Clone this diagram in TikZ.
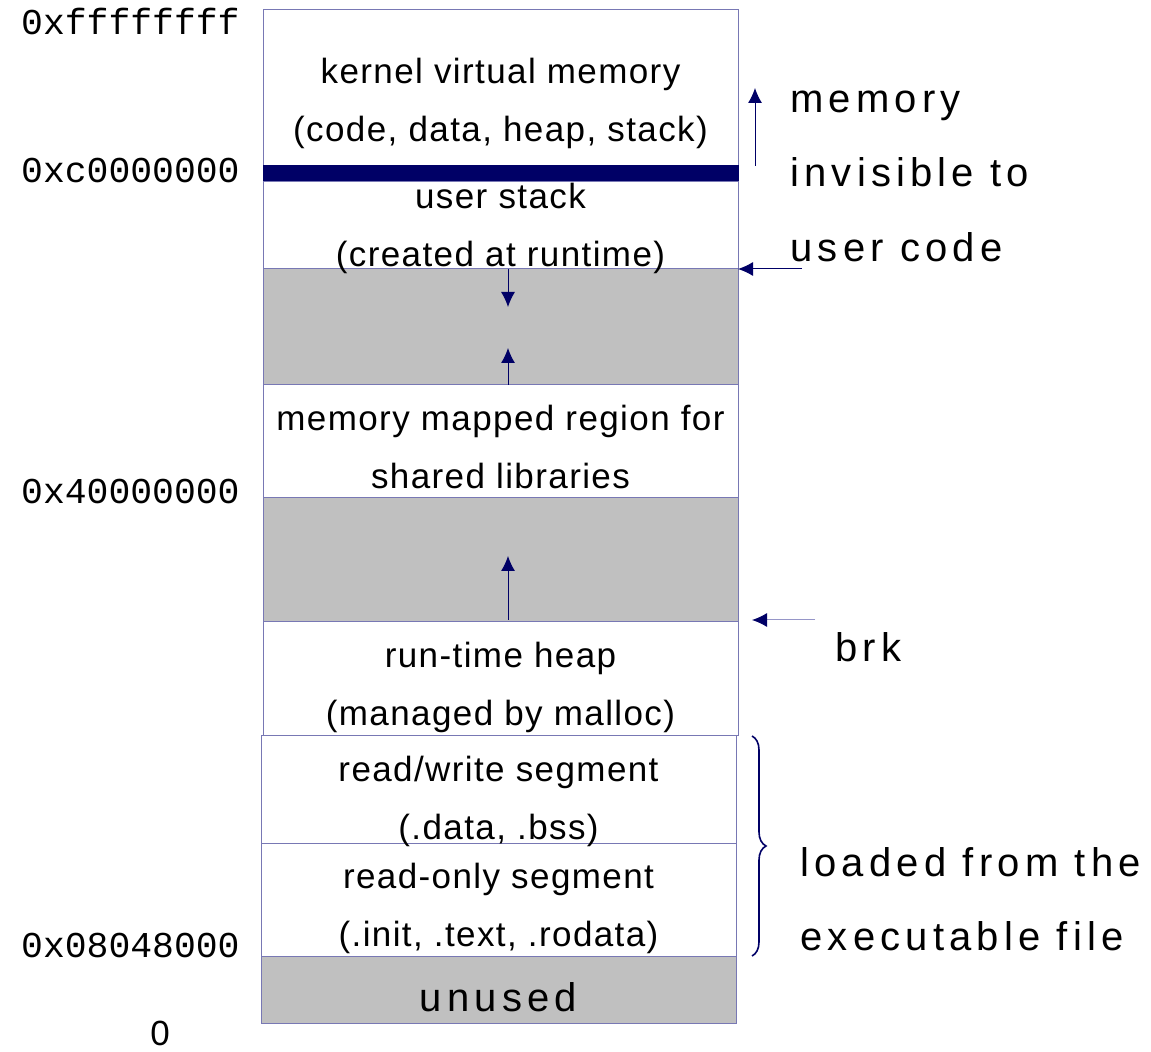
\documentclass[tikz,border=0pt]{standalone}
\usepackage{fontspec}
\usetikzlibrary{positioning, calc, arrows.meta, decorations.pathreplacing}

\newfontfamily\boxfont{Liberation Sans}[LetterSpace=4]
\newfontfamily\sidefont{Liberation Sans}[LetterSpace=13]
\newfontfamily\addrfont{Liberation Mono}

\definecolor{navyblue}{RGB}{0,0,102}
\definecolor{boxline}{RGB}{120,120,180}
\definecolor{gapgray}{RGB}{192,192,192}
\definecolor{brkline}{RGB}{150,150,200}

\tikzset{
  seg/.style={draw=boxline, line width=0.5pt, minimum width=237.5pt,
    inner sep=0pt, outer sep=0pt, fill=white},
  gap/.style={seg, fill=gapgray},
  boxtext/.style={font=\boxfont\fontsize{17.5}{29}\selectfont, align=center},
  sidetext/.style={font=\sidefont\fontsize{20}{24}\selectfont, anchor=base west, inner sep=0pt},
  addr/.style={font=\addrfont\fontsize{18.2}{22}\selectfont, anchor=base east, inner sep=0pt},
  growth/.style={draw=navyblue, line width=0.5pt, -{Latex[length=7.5pt,width=7pt]}}
}

\begin{document}
\begin{tikzpicture}[x=0.5pt, y=-0.5pt]
  \useasboundingbox (0,0) rectangle (1151,1052);

  % the address space, top to bottom
  \node[seg, minimum height=78pt] (kernel) at (500.5,88) {};
  \node[seg, fill=navyblue, draw=navyblue, minimum height=8pt, below = 0pt of kernel] (bar) {};
  \node[seg, minimum height=43.5pt, below = 0pt of bar] (ustack) {};
  \node[gap, minimum height=58pt, below = 0pt of ustack] (gap1) {};
  \node[seg, minimum height=56.5pt, below = 0pt of gap1] (mmap) {};
  \node[gap, minimum height=62pt, below = 0pt of mmap] (gap2) {};
  \node[seg, minimum height=57pt, below = 0pt of gap2] (heap) {};
  \node[seg, minimum height=53.5pt, below = 0pt of heap, xshift=-1pt] (rw) {};
  \node[seg, minimum height=56.5pt, below = 0pt of rw] (ro) {};
  \node[gap, minimum height=33.5pt, below = 0pt of ro] (unused) {};

  \node[boxtext] (kerneltxt) at ([yshift=-7.5pt]kernel.center) {kernel virtual memory\\(code, data, heap, stack)};
  \node[boxtext] (ustacktxt) at ([yshift=-1.5pt]ustack.center) {user stack\\(created at runtime)};
  \node[boxtext] (mmaptxt) at ([yshift=-2.75pt]mmap.center) {memory mapped region for\\shared libraries};
  \node[boxtext] (heaptxt) at ([yshift=-4pt]heap.center) {run-time heap\\(managed by malloc)};
  \node[boxtext] (rwtxt) at ([yshift=-5.75pt]rw.center) {read/write segment\\(.data, .bss)};
  \node[boxtext] (rotxt) at ([yshift=-4.5pt]ro.center) {read-only segment\\(.init, .text, .rodata)};
  \node[font=\sidefont\fontsize{20}{24}\selectfont] (unusedtxt) at ([yshift=-4pt]unused.center) {unused};

  % addresses
  \node[addr] (atop) at (240,35) {0xffffffff};
  \node[addr] (akernel) at (240,183) {0xc0000000};
  \node[addr] (ashared) at (240,504) {0x40000000};
  \node[addr] (atext) at (240,957) {0x08048000};
  \node[font=\boxfont\fontsize{17.5}{21}\selectfont, anchor=base, inner sep=0pt] (azero) at (160,1045) {0};

  % growth of stack and heap
  \coordinate (stackend) at ($(gap1.north)+(3.75pt,-19pt)$);
  \coordinate (mmapend) at ($(gap1.south)+(3.75pt,18.5pt)$);
  \coordinate (heapstart) at ($(gap2.south)+(3.75pt,1pt)$);
  \coordinate (heapend) at ($(gap2.south)+(3.75pt,33pt)$);
  \draw[growth] ([xshift=3.75pt]gap1.north) -- (stackend);
  \draw[growth] ([xshift=3.75pt]gap1.south) -- (mmapend);
  \draw[growth] (heapstart) -- (heapend);

  % notes on the right
  \node[sidetext] (mem) at (790,112.7) {memory};
  \node[sidetext] (invis) at (790,186.7) {invisible to};
  \node[sidetext] (usercode) at (790,261.7) {user code};
  \node[sidetext] (brk) at (835,661.7) {brk};
  \node[sidetext] (loaded) at (800,876.7) {loaded from the};
  \node[sidetext] (exefile) at (800,950) {executable file};

  \coordinate (kup0) at ($(bar.north east)+(8.5pt,0)$);
  \coordinate (kup1) at ($(bar.north east)+(8.5pt,39pt)$);
  \coordinate (utail) at ($(ustack.south east)+(32pt,0)$);
  \coordinate (brktail) at ($(heap.north east)+(38.5pt,1pt)$);
  \coordinate (brkhead) at ($(heap.north east)+(7pt,1pt)$);
  \draw[growth] (kup0) -- (kup1);
  \draw[growth] (utail) -- (ustack.south east);
  \draw[growth, draw=brkline, -{Latex[length=7.5pt,width=7pt,color=navyblue]}] (brktail) -- (brkhead);

  \draw[navyblue, line width=0.8pt, decorate, decoration={brace, amplitude=7pt}]
    ([xshift=8pt]rw.north east) -- ([xshift=8pt]ro.south east);
\end{tikzpicture}
\end{document}
